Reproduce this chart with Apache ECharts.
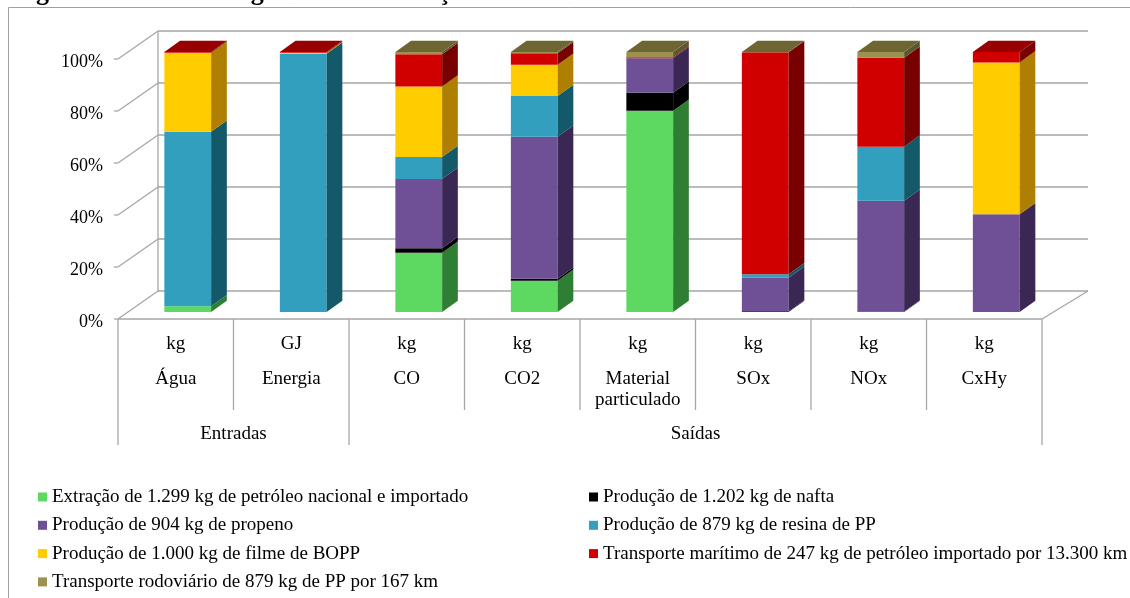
<!DOCTYPE html>
<html>
<head>
<meta charset="utf-8">
<script src="https://cdn.jsdelivr.net/npm/echarts@6/dist/echarts.min.js"></script>
<style>
  html, body { margin: 0; padding: 0; background: #ffffff; }
  #chart { width: 1130px; height: 598px; }
</style>
</head>
<body>
<div id="chart"></div>
<script>
// Categories (unit + name) and the two groups under them
const categories = ['Água', 'Energia', 'CO', 'CO2', 'Material\nparticulado', 'SOx', 'NOx', 'CxHy'];
const units = ['kg', 'GJ', 'kg', 'kg', 'kg', 'kg', 'kg', 'kg'];
const groupNames = ['Entradas', 'Saídas'];
const groupSizes = [2, 6];
const yTicks = [0, 20, 40, 60, 80, 100];

// Share (%) of each subsystem, bottom to top of every stack
const seriesNames = [
  'Extração de 1.299 kg de petróleo nacional e importado',
  'Produção de 1.202 kg de nafta',
  'Produção de 904 kg de propeno',
  'Produção de 879 kg de resina de PP',
  'Produção de 1.000 kg de filme de BOPP',
  'Transporte marítimo de 247 kg de petróleo importado por 13.300 km',
  'Transporte rodoviário de 879 kg de PP por 167 km'
];
const extracao   = [2.2, 0,    22.8, 12.0, 77.4, 0,    0,    0];
const nafta      = [0,   0,    1.7,  0.8,  6.9,  0.3,  0.2,  0];
const propeno    = [0,   0,    26.7, 54.6, 13.3, 12.9, 42.6, 37.6];
const resina     = [67.1, 99.3, 8.4, 15.7, 0,    1.3,  20.8, 0];
const filme      = [30.4, 0.4, 27.1, 12.0, 0,    0,    0,    58.4];
const maritimo   = [0.3, 0.3,  12.4, 4.4,  0.4,  85.4, 34.2, 4.0];
const rodoviario = [0,   0,    0.9,  0.5,  2.0,  0.1,  2.2,  0];
const seriesValues = [extracao, nafta, propeno, resina, filme, maritimo, rodoviario];

// Face colours: front, side, top
const palette = [
  { front: '#5DD962', side: '#2E7F33', top: '#46A84B' },
  { front: '#000000', side: '#000000', top: '#111111' },
  { front: '#6F5096', side: '#3A2753', top: '#523C72' },
  { front: '#319FBD', side: '#13596A', top: '#24788E' },
  { front: '#FFCC00', side: '#AE7F00', top: '#C59B00' },
  { front: '#D00000', side: '#780000', top: '#990000' },
  { front: '#9C914F', side: '#5C5630', top: '#6D6633' }
];

// 3D look: bar placement inside the box and depth of walls
const BAR_RATIO = 0.405;
const BAR_SHIFT = [12, -7];
const BAR_DEPTH = [15.7, -11.3];
const WALL_LEFT = [40, -28];
const WALL_RIGHT = [46, -28];
const GRID_COLOR = '#A6A6A6';
const SERIF = '"Liberation Serif", "Times New Roman", serif';

// Stack the series per category
const cumulative = categories.map(() => 0);
const topIndex = categories.map((c, i) => {
  let t = -1;
  seriesValues.forEach((vals, s) => { if (vals[i] > 0) t = s; });
  return t;
});
const stackedData = seriesValues.map((vals, s) => vals.map((v, i) => {
  const start = cumulative[i];
  cumulative[i] += v;
  return [i, start, start + v, topIndex[i] === s ? 1 : 0];
}));

function barRenderer(s) {
  const col = palette[s];
  return function (params, api) {
    const i = api.value(0), v0 = api.value(1), v1 = api.value(2), isTop = api.value(3);
    if (v1 - v0 <= 0) return null;
    const p0 = api.coord([i, v0]);
    const p1 = api.coord([i, v1]);
    const w = api.size([1, 0])[0] * BAR_RATIO;
    const xl = p0[0] + BAR_SHIFT[0] - w / 2, xr = xl + w;
    const yb = p0[1] + BAR_SHIFT[1], yt = p1[1] + BAR_SHIFT[1];
    const dx = BAR_DEPTH[0], dy = BAR_DEPTH[1];
    const children = [
      { type: 'rect', shape: { x: xl, y: yt, width: w, height: yb - yt }, style: { fill: col.front } },
      { type: 'polygon', shape: { points: [[xr, yb], [xr + dx, yb + dy], [xr + dx, yt + dy], [xr, yt]] }, style: { fill: col.side } }
    ];
    if (isTop) {
      children.push({ type: 'polygon', shape: { points: [[xl, yt], [xr, yt], [xr + dx, yt + dy], [xl + dx, yt + dy]] }, style: { fill: col.top } });
    }
    return { type: 'group', children: children };
  };
}

// Walls, floor, ticks and the category table under the axis
function frameRenderer(params, api) {
  const n = categories.length;
  const cw = api.size([1, 0])[0];
  const x0 = api.coord([0, 0])[0] - cw / 2;
  const x1 = api.coord([n - 1, 0])[0] + cw / 2;
  const y0 = api.coord([0, 0])[1];
  const line = (a, b, c, d, color, width) => ({
    type: 'line', shape: { x1: a, y1: b, x2: c, y2: d },
    style: { stroke: color || GRID_COLOR, lineWidth: width || 1.3 }
  });
  const out = [];
  yTicks.forEach(v => {
    const y = api.coord([0, v])[1];
    out.push(line(x0 + WALL_LEFT[0], y + WALL_LEFT[1], x1 + WALL_RIGHT[0], y + WALL_RIGHT[1]));
    out.push(line(x0, y, x0 + WALL_LEFT[0], y + WALL_LEFT[1]));
    out.push(line(x0 - 4, y, x0, y));
  });
  const yTop = api.coord([0, yTicks[yTicks.length - 1]])[1];
  out.push(line(x0 + WALL_LEFT[0], y0 + WALL_LEFT[1], x0 + WALL_LEFT[0], yTop + WALL_LEFT[1]));
  out.push(line(x0, y0, x1, y0));
  out.push(line(x1, y0, x1 + WALL_RIGHT[0], y0 + WALL_RIGHT[1]));

  // category table
  const catDepth = 91, groupDepth = 126;
  const groupEdges = [0];
  groupSizes.forEach(g => groupEdges.push(groupEdges[groupEdges.length - 1] + g));
  for (let k = 0; k <= n; k++) {
    const x = x0 + k * cw;
    const isGroupEdge = groupEdges.indexOf(k) >= 0;
    out.push(line(x, y0, x, y0 + (isGroupEdge ? groupDepth : catDepth)));
  }
  groupNames.forEach((g, gi) => {
    const cx = x0 + (groupEdges[gi] + groupEdges[gi + 1]) / 2 * cw;
    out.push({
      type: 'text', x: cx, y: y0 + 115,
      style: { text: g, fill: '#000', font: '19px ' + SERIF, align: 'center', verticalAlign: 'middle' }
    });
  });
  return { type: 'group', children: out };
}

const chart = echarts.init(document.getElementById('chart'), null, { renderer: 'canvas' });

const series = seriesNames.map((name, s) => ({
  type: 'custom',
  name: name,
  renderItem: barRenderer(s),
  data: stackedData[s],
  itemStyle: { color: palette[s].front },
  encode: { x: 0, y: [1, 2] },
  clip: false,
  z: 3
}));
series.unshift({
  type: 'custom',
  name: 'frame',
  renderItem: frameRenderer,
  data: [[0, 0]],
  encode: { x: 0, y: 1 },
  silent: true,
  clip: false,
  z: 1
});

const legendText = { fontFamily: SERIF, fontSize: 19, color: '#000', lineHeight: 20 };
const legendBase = {
  orient: 'vertical', top: 487, padding: 0, icon: 'rect', itemWidth: 9, itemHeight: 9, itemGap: 8.3,
  selectedMode: false, textStyle: legendText
};

chart.setOption({
  animation: false,
  backgroundColor: '#ffffff',
  grid: { left: 118, right: 88, top: 59, bottom: 279, containLabel: false, outerBoundsMode: 'none' },
  xAxis: {
    type: 'category',
    data: categories,
    axisLine: { show: false },
    axisTick: { show: false },
    splitLine: { show: false },
    axisLabel: {
      interval: 0,
      margin: 1,
      formatter: (val, idx) => '{u|' + units[idx] + '}\n' + val.split('\n').map(t => '{n|' + t + '}').join('\n'),
      rich: {
        u: { fontFamily: SERIF, fontSize: 19, color: '#000', lineHeight: 49 },
        n: { fontFamily: SERIF, fontSize: 19, color: '#000', lineHeight: 21 }
      }
    }
  },
  yAxis: {
    type: 'value',
    min: 0,
    max: 100,
    interval: 20,
    axisLine: { show: false },
    axisTick: { show: false },
    splitLine: { show: false },
    axisLabel: {
      formatter: '{value}%', margin: 15, verticalAlign: 'top', lineHeight: 6,
      fontFamily: SERIF, fontSize: 18, color: '#000'
    }
  },
  legend: [
    Object.assign({}, legendBase, { left: 38, data: [seriesNames[0], seriesNames[2], seriesNames[4], seriesNames[6]] }),
    Object.assign({}, legendBase, { left: 589, data: [seriesNames[1], seriesNames[3], seriesNames[5]] })
  ],
  graphic: [
    { type: 'rect', shape: { x: 8.5, y: 7.5, width: 1300, height: 800 }, style: { fill: null, stroke: '#A0A0A0', lineWidth: 1 }, silent: true, z: -10 },
    { type: 'text', x: 13, y: -20, style: { text: 'Figura 4.9 – Percentagem de contribuição de cada subsistema', font: 'bold 26px ' + SERIF, fill: '#000', verticalAlign: 'top' }, silent: true }
  ],
  series: series
});
</script>
</body>
</html>
